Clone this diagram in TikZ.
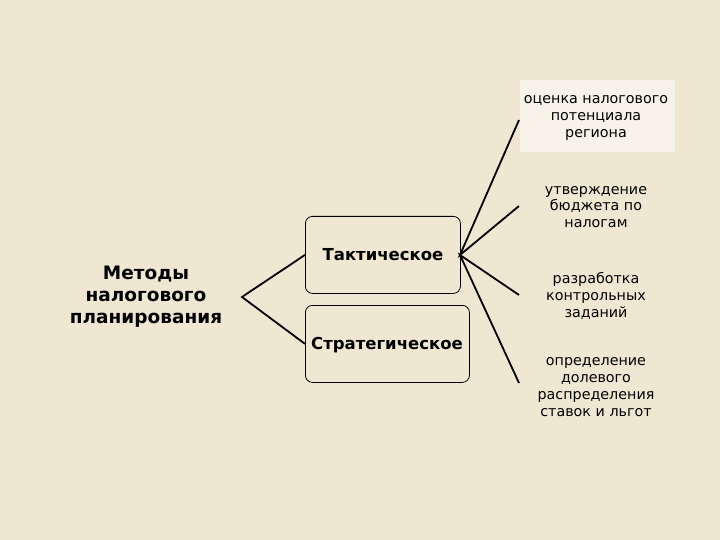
\documentclass[tikz,border=0pt]{standalone}
\usepackage{fontspec}
\setmainfont{DejaVu Sans}
\begin{document}
\begin{tikzpicture}[x=1pt,y=-1pt,
  lbl/.style={align=center,font=\fontsize{14.3}{16.8}\selectfont,inner sep=0pt},
  rbox/.style={fill=white!50!bg,minimum width=155pt,inner sep=0pt},
  cbox/.style={draw=black,line width=0.8pt,rounded corners=7pt,fill=bg,inner sep=0pt},
  ctxt/.style={font=\bfseries\fontsize{16.5}{19}\selectfont,inner sep=0pt},
  con/.style={line width=1.8pt}]
\definecolor{bg}{HTML}{F0E7D2}
\fill[bg] (0,0) rectangle (720,540);
\useasboundingbox (0,0) rectangle (720,540);
\node[lbl,font=\bfseries\fontsize{18.5}{22}\selectfont] (m) at (146,297) {Методы\\налогового\\планирования};
\coordinate (f) at (242,297);
\node[cbox,minimum width=155pt,minimum height=77pt,anchor=north west] (t) at (305,216) {};
\node[cbox,minimum width=164pt,minimum height=77pt,anchor=north west] (s) at (305,305) {};
\node[ctxt] (tt) at (383,255) {Тактическое};
\node[ctxt] (st) at (387,345) {Стратегическое};
\coordinate (te) at (460,255);
\node[rbox,minimum height=72pt,anchor=north west] (r1) at (520,80) {};
\node[lbl] (l1) at (596,118) {оценка налогового\\потенциала\\региона};
\node[lbl] (l2) at (596,207) {утверждение\\бюджета по\\налогам};
\node[lbl] (l3) at (596,296) {разработка\\контрольных\\заданий};
\node[lbl] (l4) at (596,387) {определение\\долевого\\распределения\\ставок и льгот};
\coordinate (e1) at (519,120);
\coordinate (e2) at (519,206);
\coordinate (e3) at (519,295);
\coordinate (e4) at (519,383);
\draw[con] (t.west) -- (f) -- (s.west);
\draw[con] (e1) -- (te) -- (e2);
\draw[con] (e3) -- (te) -- (e4);
\end{tikzpicture}
\end{document}
